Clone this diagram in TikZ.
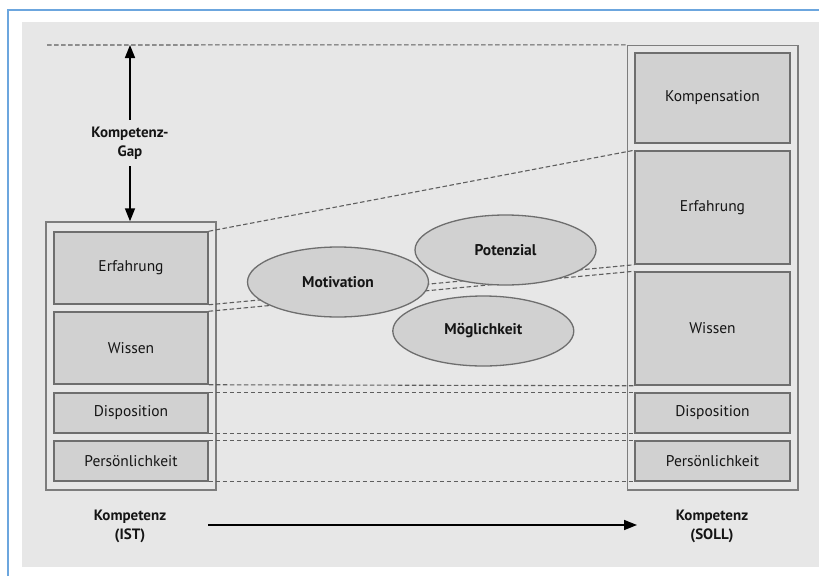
\documentclass[tikz,border=0pt]{standalone}
\usepackage{fontspec}
\setmainfont{PT Sans}
\usetikzlibrary{arrows.meta,shapes.geometric}
\definecolor{bg}{HTML}{E7E7E7}
\definecolor{boxfill}{HTML}{D1D1D1}
\definecolor{boxline}{HTML}{6E6E6E}
\definecolor{dashline}{HTML}{5E5E5E}
\definecolor{frameblue}{HTML}{6CA6DE}
\definecolor{txt}{HTML}{151515}
\tikzset{
  ibox/.style={draw=boxline, fill=boxfill, line width=1.5pt, minimum width=154, inner sep=0pt, font=\fontsize{15.5}{18}\selectfont, text=txt},
  obox/.style={draw=boxline!90, line width=1.4pt, inner sep=0pt},
  oval/.style={ellipse, draw=boxline, fill=boxfill, line width=1.3pt, minimum width=181, minimum height=70, inner sep=0pt, font=\bfseries\fontsize{15.5}{18}\selectfont, text=txt},
  dline/.style={draw=dashline, line width=1.1pt, dash pattern=on 4.5pt off 2.5pt},
  lbl/.style={align=center, font=\bfseries\fontsize{15}{19}\selectfont, text=txt},
  arr/.style={line width=1.6pt, -{Triangle[length=13pt,width=10pt]}}
}
\begin{document}
\begin{tikzpicture}[x=1pt,y=-1pt]
\useasboundingbox (0,0) rectangle (819,576);
\fill[white] (0,0) rectangle (819,576);
\fill[bg] (22,22) rectangle (819,567);
\draw[frameblue, line width=2pt] (8,576) -- (8,10) -- (819,10);
% outer boxes
\node[obox, minimum width=170, minimum height=268] (lO) at (131,356) {};
\node[obox, minimum width=170.5, minimum height=444.5] (rO) at (712.75,267.75) {};
% left inner boxes
\node[ibox, minimum height=72] (lE) at (131,268) {Erfahrung};
\node[ibox, minimum height=72] (lW) at (131,348) {Wissen};
\node[ibox, minimum height=40] (lD) at (131,413) {Disposition};
\node[ibox, minimum height=40] (lP) at (131,461) {Persönlichkeit};
% right inner boxes
\node[ibox, minimum width=155, minimum height=90] (rK) at (712.5,98) {Kompensation};
\node[ibox, minimum width=155, minimum height=113] (rE) at (712.5,207.5) {Erfahrung};
\node[ibox, minimum width=155, minimum height=113] (rW) at (712.5,328.5) {Wissen};
\node[ibox, minimum width=155, minimum height=40] (rD) at (712.5,413) {Disposition};
\node[ibox, minimum width=155, minimum height=40] (rP) at (712.5,461) {Persönlichkeit};
% dashed connectors
\coordinate (tl) at (47,45);
\draw[dline] (tl) -- (rO.north west);
\draw[dline] (lE.north east) -- (rE.north west);
\draw[dline] (lE.south east) -- (rE.south west);
\draw[dline] (lW.north east) -- (rW.north west);
\draw[dline] (lW.south east) -- (rW.south west);
\draw[dline] (lD.north east) -- (rD.north west);
\draw[dline] (lD.south east) -- (rD.south west);
\draw[dline] (lP.north east) -- (rP.north west);
\draw[dline] (lP.south east) -- (rP.south west);
% ellipses
\node[oval] (mot) at (338,282) {Motivation};
\node[oval] (pot) at (505.5,250) {Potenzial};
\node[oval] (moe) at (483.3,331) {Möglichkeit};
% gap
\coordinate (gt) at (130,45);
\node[lbl, inner sep=0pt, minimum height=40] (gap) at (130,143) {Kompetenz-\\Gap};
\draw[arr] (gap.north) ++(0,-3) coordinate (g1) (g1) -- (gt);
\draw[arr] (gap.south) ++(0,3) coordinate (g2) (g2) -- (lO.north -| gt);
% bottom
\node[lbl] (ist) at (130,526) {Kompetenz\\(IST)};
\node[lbl] (soll) at (712,526) {Kompetenz\\(SOLL)};
\coordinate (b1) at (208,525);
\coordinate (b2) at (637,525);
\draw[arr] (b1) -- (b2);
\end{tikzpicture}
\end{document}
